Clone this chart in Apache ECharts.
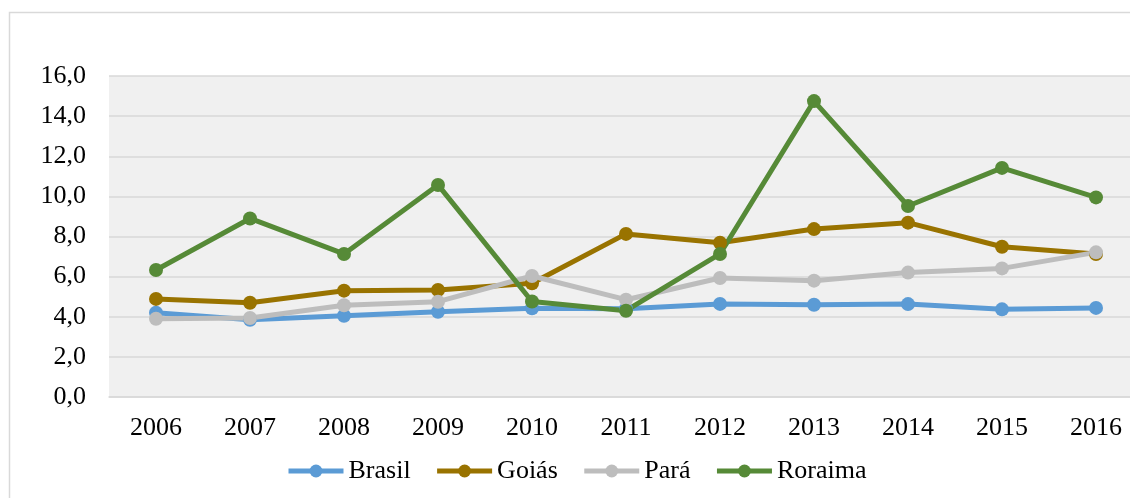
<!DOCTYPE html>
<html>
<head>
<meta charset="utf-8">
<script src="https://cdn.jsdelivr.net/npm/echarts@6/dist/echarts.min.js"></script>
<style>
  html, body { margin: 0; padding: 0; background: #fff; }
  #chart { width: 1130px; height: 498px; }
</style>
</head>
<body>
<div id="chart"></div>
<script>
// anos
var anos = ['2006', '2007', '2008', '2009', '2010', '2011', '2012', '2013', '2014', '2015', '2016'];

// valores
var brasil  = [4.2, 3.85, 4.05, 4.25, 4.42, 4.4, 4.64, 4.6, 4.63, 4.37, 4.44];
var goias   = [4.89, 4.7, 5.3, 5.33, 5.67, 8.13, 7.69, 8.37, 8.69, 7.49, 7.13];
var para    = [3.9, 3.94, 4.57, 4.75, 6.03, 4.85, 5.93, 5.8, 6.2, 6.41, 7.21];
var roraima = [6.33, 8.9, 7.13, 10.57, 4.76, 4.3, 7.13, 14.75, 9.52, 11.42, 9.95];

var fonte = '"Liberation Serif", "Times New Roman", serif';

function serie(nome, dados, cor) {
    return {
        name: nome,
        type: 'line',
        data: dados,
        symbol: 'circle',
        symbolSize: 14,
        lineStyle: { width: 5, color: cor },
        itemStyle: { color: cor },
        emphasis: { disabled: true }
    };
}

var myChart = echarts.init(document.getElementById('chart'));
var option = {
    animation: false,
    backgroundColor: '#fff',
    graphic: [{
        type: 'rect',
        z: -10,
        shape: { x: 9.5, y: 12.5, width: 1300, height: 700 },
        style: { fill: null, stroke: '#d9d9d9', lineWidth: 1.5 }
    }],
    legend: {
        left: 281,
        top: 453,
        itemWidth: 55,
        itemHeight: 16,
        itemGap: 24,
        lineStyle: { width: 5 },
        textStyle: { fontFamily: fonte, fontSize: 26, color: '#000' },
        data: ['Brasil', 'Goiás', 'Pará', 'Roraima']
    },
    grid: {
        left: 109,
        top: 76,
        width: 1034,
        bottom: 101,
        outerBoundsMode: 'none',
        show: true,
        backgroundColor: '#f0f0f0',
        borderWidth: 0
    },
    xAxis: {
        type: 'category',
        data: anos,
        boundaryGap: true,
        axisLine: { show: true, lineStyle: { color: '#d9d9d9', width: 1.5 } },
        axisTick: { show: false },
        axisLabel: { color: '#000', fontFamily: fonte, fontSize: 26, margin: 18 }
    },
    yAxis: {
        type: 'value',
        min: 0,
        max: 16,
        interval: 2,
        axisLine: { show: false },
        axisTick: { show: false },
        splitLine: { lineStyle: { color: '#d9d9d9', width: 1.5 } },
        axisLabel: {
            color: '#000', fontFamily: fonte, fontSize: 26, margin: 23,
            formatter: function (v) { return v.toFixed(1).replace('.', ','); }
        }
    },
    series: [
        serie('Brasil', brasil, '#5b9bd5'),
        serie('Goiás', goias, '#997300'),
        serie('Pará', para, '#bdbdbd'),
        serie('Roraima', roraima, '#568a37')
    ]
};
myChart.setOption(option);
</script>
</body>
</html>
